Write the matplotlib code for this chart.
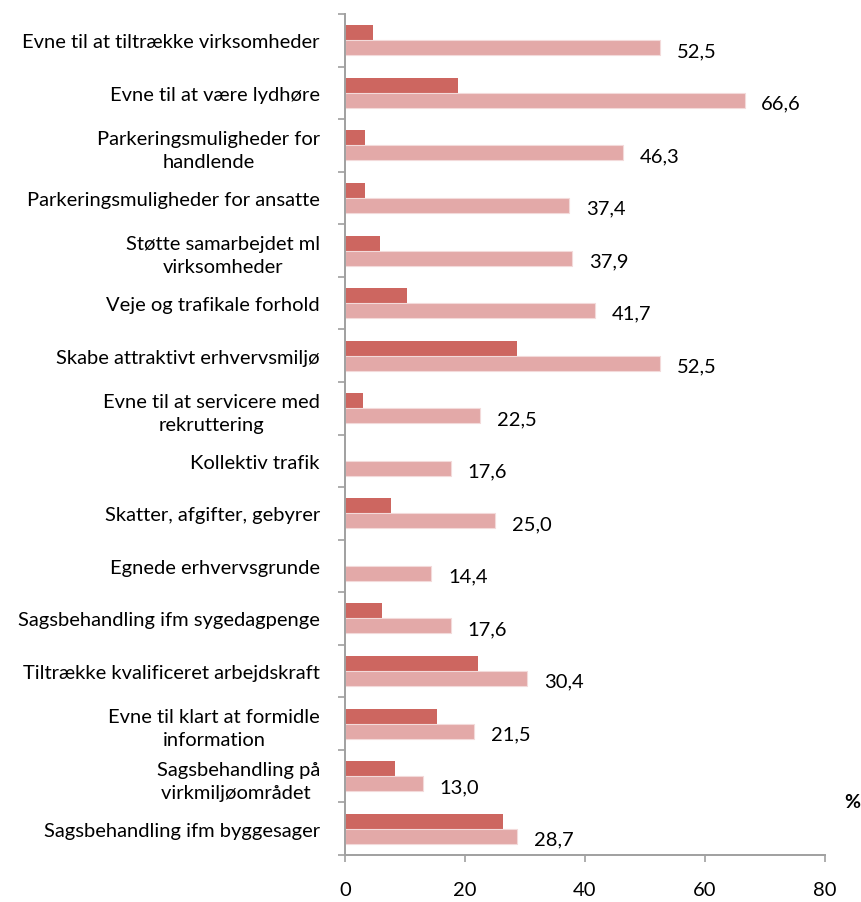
import numpy as np
import matplotlib.pyplot as plt
import matplotlib.transforms as mtransforms

categories = [
    "Evne til at tiltrække virksomheder",
    "Evne til at være lydhøre",
    "Parkeringsmuligheder for\nhandlende",
    "Parkeringsmuligheder for ansatte",
    "Støtte samarbejdet ml\nvirksomheder",
    "Veje og trafikale forhold",
    "Skabe attraktivt erhvervsmiljø",
    "Evne til at servicere med\nrekruttering",
    "Kollektiv trafik",
    "Skatter, afgifter, gebyrer",
    "Egnede erhvervsgrunde",
    "Sagsbehandling ifm sygedagpenge",
    "Tiltrække kvalificeret arbejdskraft",
    "Evne til klart at formidle\ninformation",
    "Sagsbehandling på\nvirkmiljøområdet ",
    "Sagsbehandling ifm byggesager",
]
dark_vals = [4.6, 18.8, 3.3, 3.3, 5.8, 10.3, 28.7, 3.0, 0.0, 7.7, 0.0, 6.1, 22.2, 15.3, 8.4, 26.3]
light_vals = [52.5, 66.6, 46.3, 37.4, 37.9, 41.7, 52.5, 22.5, 17.6, 25.0, 14.4, 17.6, 30.4, 21.5, 13.0, 28.7]
x_ticks = [0, 20, 40, 60, 80]

plt.rcParams["font.family"] = ["Lato", "DejaVu Sans"]

fig = plt.figure(figsize=(8.61, 9.03), dpi=100)
ax = fig.add_axes([345 / 861, 1 - 856 / 903, 480 / 861, 841 / 903])

y = np.arange(len(categories))
h = 0.285
ax.barh(y - h / 2, dark_vals, height=h, color="#CD6660", edgecolor="none")
ax.barh(y + h / 2, light_vals, height=h, color="#E3A9A8", edgecolor="#F3DADA", linewidth=0.8)

for yi, v in zip(y, light_vals):
    ax.annotate(f"{v:.1f}".replace(".", ","), (v, yi + h / 2), xytext=(12, -2),
                textcoords="offset points", va="center", ha="left", fontsize=14.5)

ax.set_xlim(0, 80)
ax.set_ylim(len(categories) - 0.5, -0.5)
ax.set_xticks(x_ticks)
ax.set_xticklabels([str(t) for t in x_ticks], fontsize=14.5)
ax.set_yticks(y)
ax.set_yticklabels(categories, fontsize=14.5, multialignment="center", linespacing=1.45)
ax.set_yticks(np.arange(-0.5, len(categories), 1), minor=True)

# nudge category labels a little down, like the original
shift = mtransforms.ScaledTranslation(0, -3 / 72, fig.dpi_scale_trans)
for lab in ax.get_yticklabels():
    lab.set_transform(lab.get_transform() + shift)

ax.tick_params(axis="y", which="major", length=0, pad=18)
ax.tick_params(axis="y", which="minor", length=5, color="#A0A0A0", width=1.2)
ax.tick_params(axis="x", length=5, color="#A0A0A0", width=1.2, pad=14)

for s in ["top", "right"]:
    ax.spines[s].set_visible(False)
for s in ["left", "bottom"]:
    ax.spines[s].set_color("#A0A0A0")
    ax.spines[s].set_linewidth(1.4)

fig.text(852 / 861, 1 - 803 / 903, "%", fontsize=14, fontweight="bold", ha="center", va="center")

fig.savefig("out.png", dpi=100)
